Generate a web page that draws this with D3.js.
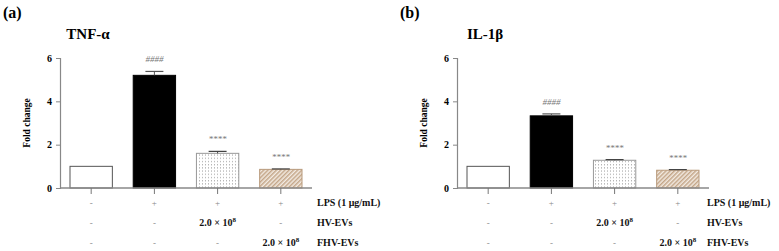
<!DOCTYPE html>
<html>
<head>
<meta charset="utf-8">
<script src="https://cdn.jsdelivr.net/npm/d3@7"></script>
<style>
  body { margin: 0; background: #fff; }
  svg { display: block; font-family: "Liberation Serif", "DejaVu Serif", serif; }
</style>
</head>
<body>
<svg id="chart" width="779" height="251"></svg>
<script>
// data
var groups = ["Control", "LPS", "LPS + HV-EVs", "LPS + FHV-EVs"];
var tnfMean = [1.0, 5.2, 1.6, 0.86];
var tnfErr = [0, 0.18, 0.09, 0.02];
var il1bMean = [1.0, 3.33, 1.28, 0.82];
var il1bErr = [0, 0.09, 0.03, 0.03];
var sigMarks = ["", "####", "****", "****"];
var yTicks = [0, 2, 4, 6];
var rowNames = ["LPS (1 μg/mL)", "HV-EVs", "FHV-EVs"];
var lpsRow = ["-", "+", "+", "+"];
var hvRow = ["-", "-", "2.0 × 10|8", "-"];
var fhvRow = ["-", "-", "-", "2.0 × 10|8"];

var svg = d3.select("#chart");

var defs = svg.append("defs");
var dots = defs.append("pattern").attr("id", "dots").attr("patternUnits", "userSpaceOnUse")
    .attr("width", 3).attr("height", 3.2);
dots.append("rect").attr("width", 3).attr("height", 3.2).attr("fill", "#fff");
dots.append("rect").attr("x", 1).attr("y", 1).attr("width", 1).attr("height", 1).attr("fill", "#9a9a9a");

var hatch = defs.append("pattern").attr("id", "hatch").attr("patternUnits", "userSpaceOnUse")
    .attr("width", 3).attr("height", 3).attr("patternTransform", "rotate(45)");
hatch.append("rect").attr("width", 3).attr("height", 3).attr("fill", "#f3ebe2");
hatch.append("rect").attr("width", 1.5).attr("height", 3).attr("fill", "#c4a688");

var fills = ["#fff", "#000", "url(#dots)", "url(#hatch)"];
var strokes = ["#555", "#000", "#999", "#b89a7c"];

function drawPanel(opt) {
    var g = svg.append("g");
    var y = d3.scaleLinear().domain([0, 6]).range([188, 58]);
    var x = d3.scaleBand().domain(groups).range([opt.x0 + 10, opt.x0 + 242]).paddingInner(0.33).paddingOuter(0);
    var axisEnd = opt.x0 + 252;

    g.append("text").attr("x", opt.x0 - 57).attr("y", 18)
        .attr("font-size", 16).attr("font-weight", "bold").text(opt.tag);
    g.append("text").attr("x", opt.x0 + 28).attr("y", 39).attr("text-anchor", "middle")
        .attr("font-size", 15).attr("font-weight", "bold").text(opt.title);

    // y axis
    var ya = g.append("g").attr("transform", "translate(" + opt.x0 + ",0)")
        .call(d3.axisLeft(y).tickValues(yTicks).tickSize(4).tickPadding(4).tickFormat(d3.format("d")));
    ya.select(".domain").attr("stroke", "#888").attr("stroke-width", 1.2);
    ya.selectAll(".tick line").attr("stroke", "#888");
    ya.selectAll(".tick text").attr("font-size", 10).attr("font-weight", "bold")
        .attr("font-family", "Liberation Serif").attr("fill", "#000");

    g.append("text").attr("transform", "translate(" + (opt.x0 - 30) + ",123) rotate(-90)")
        .attr("text-anchor", "middle").attr("font-size", 9.5).attr("font-weight", "bold").text("Fold change");

    // bars
    g.selectAll("rect.bar").data(opt.mean).enter().append("rect")
        .attr("class", "bar")
        .attr("x", function(d, i) { return x(groups[i]); })
        .attr("width", x.bandwidth())
        .attr("y", function(d) { return y(d); })
        .attr("height", function(d) { return y(0) - y(d); })
        .attr("fill", function(d, i) { return fills[i]; })
        .attr("stroke", function(d, i) { return strokes[i]; })
        .attr("stroke-width", 1);

    // error bars (upper only)
    opt.mean.forEach(function(m, i) {
        if (!opt.err[i]) return;
        var cx = x(groups[i]) + x.bandwidth() / 2;
        var col = i == 1 ? "#555" : "#444";
        g.append("line").attr("x1", cx).attr("x2", cx).attr("y1", y(m)).attr("y2", y(m + opt.err[i]))
            .attr("stroke", col).attr("stroke-width", 1);
        g.append("line").attr("x1", cx - 9).attr("x2", cx + 9)
            .attr("y1", y(m + opt.err[i])).attr("y2", y(m + opt.err[i]))
            .attr("stroke", col).attr("stroke-width", 1.2);
    });

    // significance marks
    g.selectAll("text.sig").data(sigMarks).enter().append("text")
        .attr("class", "sig")
        .attr("x", function(d, i) { return x(groups[i]) + x.bandwidth() / 2; })
        .attr("y", function(d, i) { return y(opt.mean[i] + opt.err[i]) - 9; })
        .attr("text-anchor", "middle").attr("font-size", 9).attr("font-style", "italic")
        .attr("fill", "#777").text(function(d) { return d; });

    // x axis line + ticks
    g.append("line").attr("x1", opt.x0).attr("x2", axisEnd).attr("y1", y(0)).attr("y2", y(0))
        .attr("stroke", "#888").attr("stroke-width", 1.5);
    g.selectAll("line.xt").data(groups).enter().append("line")
        .attr("x1", function(d) { return x(d) + x.bandwidth() / 2; })
        .attr("x2", function(d) { return x(d) + x.bandwidth() / 2; })
        .attr("y1", y(0)).attr("y2", y(0) + 6).attr("stroke", "#777");

    // treatment table
    var rows = [lpsRow, hvRow, fhvRow];
    var rowY = [206, 226, 246];
    rows.forEach(function(row, r) {
        row.forEach(function(v, i) {
            var cx = x(groups[i]) + x.bandwidth() / 2;
            var t = g.append("text").attr("x", cx).attr("y", rowY[r]).attr("text-anchor", "middle");
            if (v.indexOf("|") >= 0) {
                var p = v.split("|");
                t.attr("font-size", 10).attr("font-weight", "bold").attr("fill", "#111");
                t.append("tspan").text(p[0]);
                t.append("tspan").attr("dy", -4).attr("font-size", 7).text(p[1]);
            } else {
                t.attr("font-size", 9).attr("fill", "#888").text(v);
            }
        });
        g.append("text").attr("x", opt.labelX).attr("y", rowY[r])
            .attr("font-size", 10).attr("font-weight", "bold").attr("fill", "#111").text(rowNames[r]);
    });
}

drawPanel({x0: 60, labelX: 317, tag: "(a)", title: "TNF-α", mean: tnfMean, err: tnfErr});
drawPanel({x0: 457, labelX: 707, tag: "(b)", title: "IL-1β", mean: il1bMean, err: il1bErr});
</script>
</body>
</html>
